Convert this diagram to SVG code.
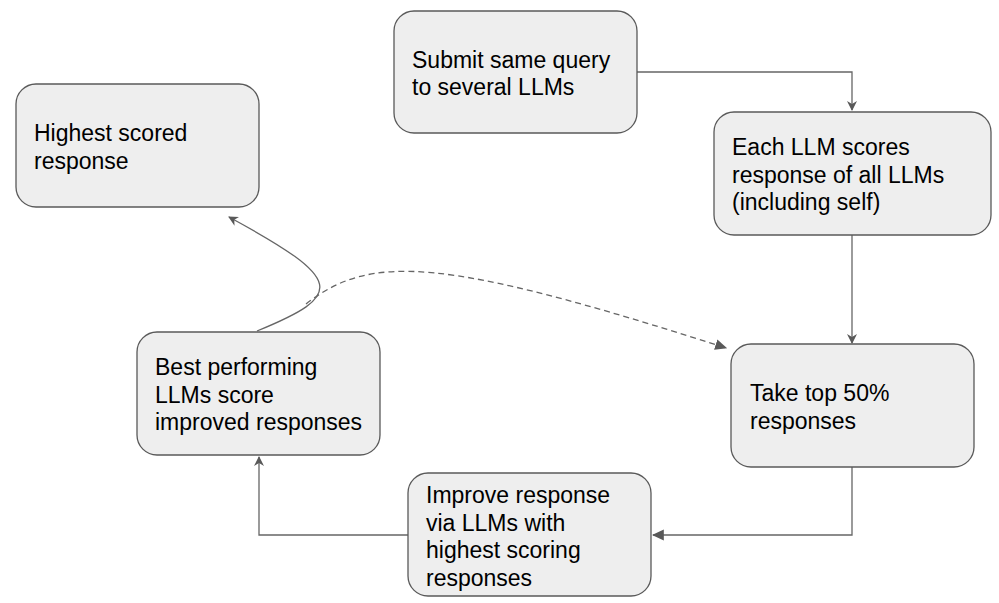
<svg xmlns="http://www.w3.org/2000/svg" width="999" height="603" viewBox="0 0 999 603">
<style>
.box{fill:#eeeeee;stroke:#595959;stroke-width:1.3}
.t{font-family:"Liberation Sans",Arial,sans-serif;font-size:23px;fill:#000}
.c{fill:none;stroke:#666666;stroke-width:1.3}
.d{stroke-dasharray:6,4}
</style>
<defs>
<marker id="ah" viewBox="0 0 10 10" refX="9" refY="5" markerWidth="10" markerHeight="10" markerUnits="userSpaceOnUse" orient="auto">
<path d="M0,0 L10,5 L0,10 L3,5 z" fill="#595959"/>
</marker>
<marker id="ah2" viewBox="0 0 10 10" refX="9" refY="5" markerWidth="12" markerHeight="12" markerUnits="userSpaceOnUse" orient="auto">
<path d="M0,0.5 L10,5 L0,9.5 z" fill="#595959"/>
</marker>
</defs>
<g id="connectors">
<path class="c" d="M637,72 H852 V110" marker-end="url(#ah)"/>
<path class="c" d="M852,235 V343" marker-end="url(#ah)"/>
<path class="c" d="M852,467 V535 H653" marker-end="url(#ah2)"/>
<path class="c" d="M408,535 H259 V457" marker-end="url(#ah)"/>
<path class="c" d="M257,331 C345,295 345,280 229,217" marker-end="url(#ah)"/>
<path class="c d" d="M306,304 C370,254 440,256 726,348" marker-end="url(#ah2)"/>
</g>
<g id="n-submit">
<rect class="box" x="394" y="11" width="243" height="122" rx="20"/>
<text class="t" x="412" y="67.5">Submit same query</text>
<text class="t" x="412" y="95">to several LLMs</text>
</g>
<g id="n-highest">
<rect class="box" x="16" y="84" width="243" height="123" rx="20"/>
<text class="t" x="34" y="141">Highest scored</text>
<text class="t" x="34" y="168.5">response</text>
</g>
<g id="n-each">
<rect class="box" x="714" y="112" width="277" height="123" rx="20"/>
<text class="t" x="732" y="155">Each LLM scores</text>
<text class="t" x="732" y="182.5">response of all LLMs</text>
<text class="t" x="732" y="210">(including self)</text>
</g>
<g id="n-take">
<rect class="box" x="731" y="344" width="243" height="123" rx="20"/>
<text class="t" x="750" y="401">Take top 50%</text>
<text class="t" x="750" y="428.5">responses</text>
</g>
<g id="n-best">
<rect class="box" x="137" y="332" width="243" height="123" rx="20"/>
<text class="t" x="155" y="375">Best performing</text>
<text class="t" x="155" y="402.5">LLMs score</text>
<text class="t" x="155" y="430">improved responses</text>
</g>
<g id="n-improve">
<rect class="box" x="408" y="473" width="243" height="123" rx="20"/>
<text class="t" x="426" y="503">Improve response</text>
<text class="t" x="426" y="530.5">via LLMs with</text>
<text class="t" x="426" y="558">highest scoring</text>
<text class="t" x="426" y="585.5">responses</text>
</g>
</svg>
